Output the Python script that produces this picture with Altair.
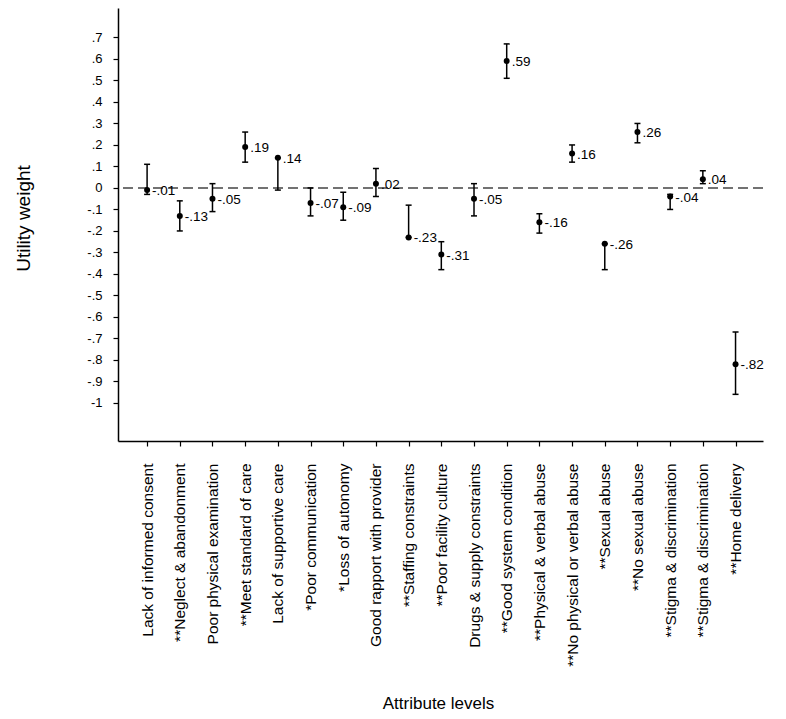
import json
import altair as alt
import pandas as pd

labels = ["Lack of informed consent", "**Neglect & abandonment", "Poor physical examination",
          "**Meet standard of care", "Lack of supportive care", "*Poor communication",
          "*Loss of autonomy", "Good rapport with provider", "**Staffing constraints",
          "**Poor facility culture", "Drugs & supply constraints", "**Good system condition",
          "**Physical & verbal abuse", "**No physical or verbal abuse", "**Sexual abuse",
          "**No sexual abuse", "**Stigma & discrimination", "**Stigma & discrimination",
          "**Home delivery"]
weights = [-0.01, -0.13, -0.05, 0.19, 0.14, -0.07, -0.09, 0.02, -0.23, -0.31,
           -0.05, 0.59, -0.16, 0.16, -0.26, 0.26, -0.04, 0.04, -0.82]
lower = [-0.03, -0.20, -0.11, 0.12, -0.01, -0.13, -0.15, -0.04, -0.23, -0.38,
         -0.13, 0.51, -0.21, 0.12, -0.38, 0.21, -0.10, 0.02, -0.96]
upper = [0.11, -0.06, 0.02, 0.26, 0.14, 0.00, -0.02, 0.09, -0.08, -0.25,
         0.02, 0.67, -0.12, 0.20, -0.26, 0.30, -0.03, 0.08, -0.67]
y_ticks = [round(-1 + 0.1 * k, 1) for k in range(18)]

txt = [f"{v:.2f}".replace("0.", ".") for v in weights]
df = pd.DataFrame({"i": list(range(len(labels))), "w": weights, "lo": lower, "hi": upper, "txt": txt})

SANS = "Liberation Sans, Arial, Helvetica"

xscale = alt.Scale(domain=[-0.89, 18.84], nice=False, zero=False)
yscale = alt.Scale(domain=[-1.177, 0.837], nice=False, zero=False)

xaxis = alt.Axis(values=list(range(len(labels))),
                 labelExpr=json.dumps(labels) + "[datum.value]",
                 labelAngle=-90, labelPadding=17, labelFont=SANS, labelFontSize=15.5,
                 labelOverlap=False, labelFlush=False, labelColor="black", labelLimit=0,
                 grid=False, tickSize=5, tickColor="black", tickWidth=1.2,
                 domainColor="black", domainWidth=1.5,
                 title="Attribute levels", titleFont=SANS, titleFontSize=17,
                 titleFontWeight="normal", titleColor="black",
                 titleX=320, titleY=267, titleBaseline="alphabetic", titleAlign="center")

yaxis = alt.Axis(values=y_ticks,
                 labelExpr="datum.value == 0 ? '0' : (datum.value < -0.95 ? '-1' : (datum.value < 0 ? '-' : '') + '.' + round(abs(datum.value) * 10))",
                 labelPadding=11, labelFont=SANS, labelFontSize=13, labelColor="black",
                 labelOverlap=False, labelFlush=False,
                 grid=False, tickSize=5, tickColor="black", tickWidth=1.2,
                 domainColor="black", domainWidth=1.5,
                 title="Utility weight", titleFont=SANS, titleFontSize=19,
                 titleFontWeight="normal", titleColor="black",
                 titleX=-85, titleY=210, titleBaseline="bottom", titleAngle=-90, titleAlign="center")

X = lambda f: alt.X(f, scale=xscale, axis=xaxis)
Y = lambda f: alt.Y(f, scale=yscale, axis=yaxis)

base = alt.Chart(df)

zero = alt.Chart(pd.DataFrame({"z": [0]})).mark_rule(
    strokeDash=[10, 5], color="#444444", strokeWidth=1.5
).encode(y=Y("z:Q"))

bars = base.mark_rule(color="black", strokeWidth=1.5).encode(
    x=X("i:Q"), y=Y("lo:Q"), y2="hi:Q")
cap_lo = base.mark_tick(orient="horizontal", size=6, thickness=1.5, color="black", opacity=1).encode(
    x=X("i:Q"), y=Y("lo:Q"))
cap_hi = base.mark_tick(orient="horizontal", size=6, thickness=1.5, color="black", opacity=1).encode(
    x=X("i:Q"), y=Y("hi:Q"))
pts = base.mark_circle(size=36, color="black", opacity=1).encode(
    x=X("i:Q"), y=Y("w:Q"))
lbl = base.mark_text(align="left", baseline="middle", dx=5, dy=1, font=SANS,
                     fontSize=13.5, color="black").encode(
    x=X("i:Q"), y=Y("w:Q"), text="txt:N")

chart = alt.layer(zero, bars, cap_lo, cap_hi, pts, lbl).properties(
    width=645, height=433,
    autosize=alt.AutoSizeParams(type="none"),
    padding={"left": 110, "top": 0, "right": 15, "bottom": 270},
    background="white",
).configure_view(stroke=None)

chart.save("out.html", embed_options={"renderer": "svg", "actions": False})
